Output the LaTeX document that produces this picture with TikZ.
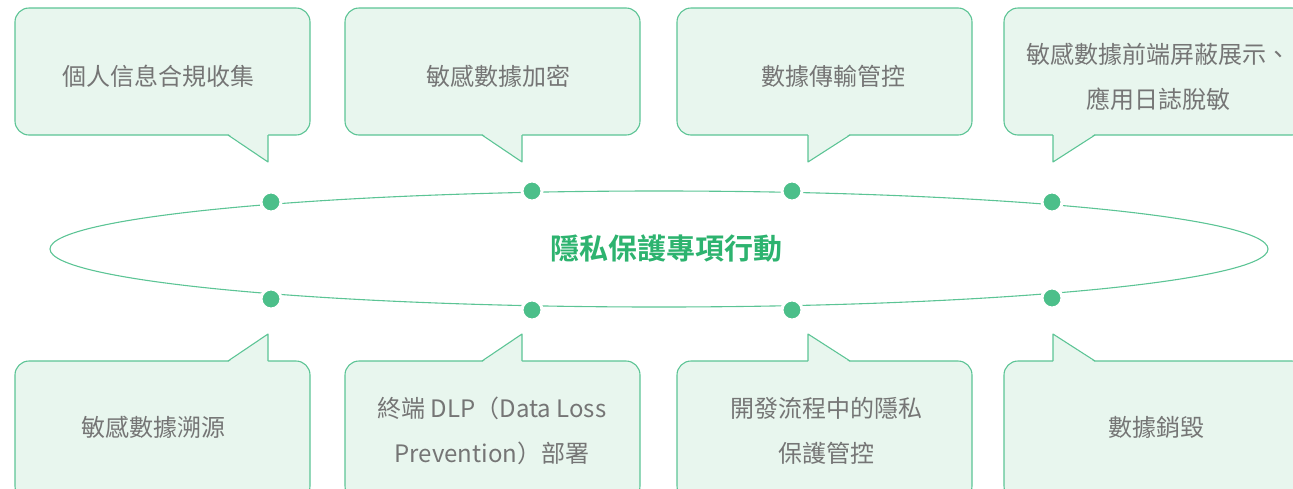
\documentclass[tikz,border=0pt]{standalone}
\usepackage{fontspec}
\setmainfont{Noto Sans CJK TC}
\newfontfamily\cjkb[BoldFont={Noto Sans CJK TC Bold}]{Noto Sans CJK TC}
\definecolor{boxfill}{HTML}{E8F6EE}
\definecolor{boxline}{HTML}{5CC495}
\definecolor{dotc}{HTML}{4CBF8A}
\definecolor{txt}{HTML}{757575}
\definecolor{title}{HTML}{2DB36F}
\tikzset{
  bubble/.style={fill=boxfill, draw=boxline, line width=1.1pt, rounded corners=14pt},
  tailfill/.style={fill=boxfill, draw=none},
  tailedge/.style={draw=boxline, line width=1.1pt, line join=round},
  lbl/.style={text=txt, font=\fontsize{24}{45}\selectfont, align=center, inner sep=0pt},
  dotn/.style={circle, fill=dotc, draw=white, line width=3pt, minimum size=20pt, inner sep=0pt},
}
\begin{document}
\begin{tikzpicture}[x=1pt,y=-1pt]
\useasboundingbox (0,0) rectangle (1293,488);
\clip (0,0) rectangle (1293,488);
% ellipse
\draw[boxline, line width=1.1pt] (659,249) ellipse [x radius=609, y radius=58];
% top bubbles
\foreach \xa/\xb/\tv/\td in {15/310/268/228, 345/640/522/482, 677/972/808/850, 1004/1306/1053/1095}{
  \draw[bubble] (\xa,8) rectangle (\xb,135);
  \fill[tailfill] (\td,133.8) -- (\tv,162) -- (\tv,133.8) -- cycle;
  \draw[tailedge] (\td,135) -- (\tv,162) -- (\tv,135);
}
% bottom bubbles
\foreach \xa/\xb/\tv/\td in {15/310/268/228, 345/640/522/482, 677/972/808/850, 1004/1306/1053/1095}{
  \draw[bubble] (\xa,361) rectangle (\xb,500);
  \fill[tailfill] (\td,362.2) -- (\tv,334) -- (\tv,362.2) -- cycle;
  \draw[tailedge] (\td,361) -- (\tv,334) -- (\tv,361);
}
% labels
\node[lbl] (t1) at (158,76) {個人信息合規收集};
\node[lbl] (t2) at (498,76) {敏感數據加密};
\node[lbl] (t3) at (833,76) {數據傳輸管控};
\node[lbl] (t4) at (1158,76.5) {敏感數據前端屏蔽展示、\\應用日誌脫敏};
\node[lbl] (b1) at (153,427) {敏感數據溯源};
\node[lbl] (b2) at (492,431) {終端 DLP（Data Loss\\Prevention）部署};
\node[lbl] (b3) at (826,431) {開發流程中的隱私\\保護管控};
\node[lbl] (b4) at (1156,427) {數據銷毀};
\node[text=title, font=\cjkb\bfseries\fontsize{29}{34}\selectfont, inner sep=0pt] (c) at (666,249) {隱私保護專項行動};
% dots
\node[dotn] (d1) at (271,202) {};
\node[dotn] (d2) at (532,191) {};
\node[dotn] (d3) at (792,191) {};
\node[dotn] (d4) at (1052,202) {};
\node[dotn] (d5) at (271,299) {};
\node[dotn] (d6) at (532,310) {};
\node[dotn] (d7) at (792,310) {};
\node[dotn] (d8) at (1052,298) {};
\end{tikzpicture}
\end{document}
